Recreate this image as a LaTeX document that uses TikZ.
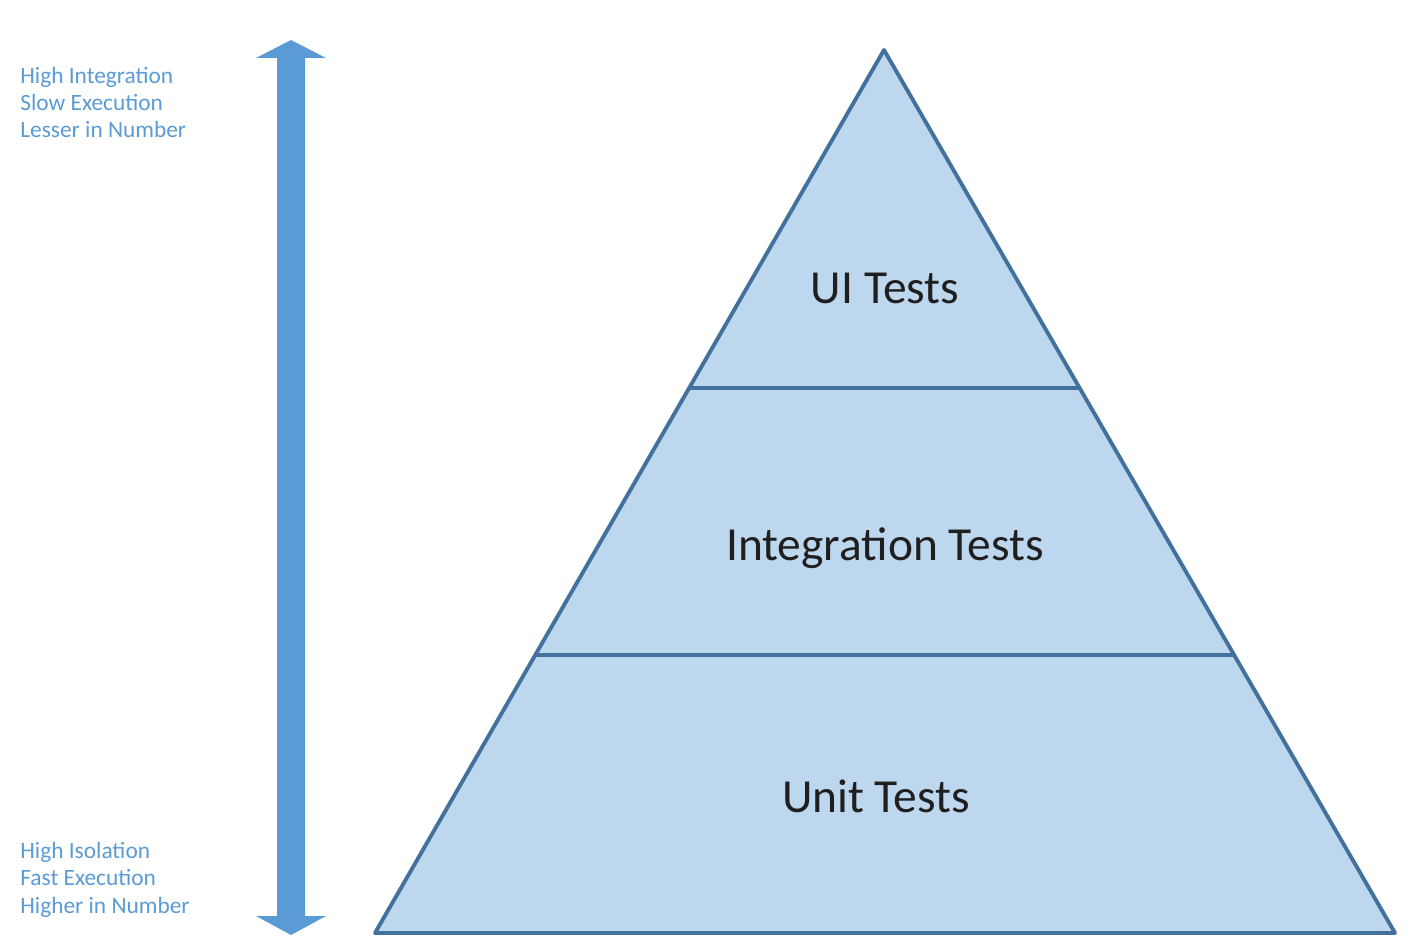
\documentclass[tikz,border=0pt]{standalone}
\usepackage{fontspec}
\setmainfont{Carlito}
\definecolor{pyrfill}{HTML}{BDD7EE}
\definecolor{pyrline}{HTML}{41719C}
\definecolor{arrowblue}{HTML}{5B9BD5}
\definecolor{sidetext}{HTML}{5B9BD5}
\definecolor{maintext}{HTML}{1F1F1F}
\begin{document}
\begin{tikzpicture}[x=0.02cm,y=-0.02cm,
  layer/.style={fill=pyrfill,draw=pyrline,line width=2.2pt,line join=round},
  divider/.style={draw=pyrline,line width=2.2pt},
  tierlabel/.style={text=maintext,font=\fontsize{27}{32}\selectfont,inner sep=0pt,anchor=base},
  sidelabel/.style={text=sidetext,font=\fontsize{13.3}{15.4}\selectfont,inner sep=0pt,align=left,anchor=base west},
  bigarrow/.style={fill=arrowblue}]
\useasboundingbox (0,0) rectangle (1419,949);
% pyramid
\coordinate (apex) at (884,50);
\coordinate (bl) at (375,933);
\coordinate (br) at (1395,933);
\coordinate (d1l) at (689.5,388);
\coordinate (d1r) at (1079.5,388);
\coordinate (d2l) at (535.5,655);
\coordinate (d2r) at (1234,655);
\path[layer] (apex) -- (br) -- (bl) -- cycle;
\draw[divider] (d1l) -- (d1r);
\draw[divider] (d2l) -- (d2r);
\node[tierlabel] (ui) at (885,304) {UI Tests};
\node[tierlabel] (integ) at (885,560) {Integration Tests};
\node[tierlabel] (unit) at (876,812) {Unit Tests};
% double arrow
\fill[bigarrow] (291,40) -- (326,58) -- (305,58) -- (305,916) -- (326,916) -- (291,935) -- (256,916) -- (277,916) -- (277,58) -- (256,58) -- cycle;
% side labels (base anchor is the last line's baseline)
\node[sidelabel] (top) at (20,138) {High Integration\\Slow Execution\\Lesser in Number};
\node[sidelabel] (bottom) at (20,913) {High Isolation\\Fast Execution\\Higher in Number};
\end{tikzpicture}
\end{document}
